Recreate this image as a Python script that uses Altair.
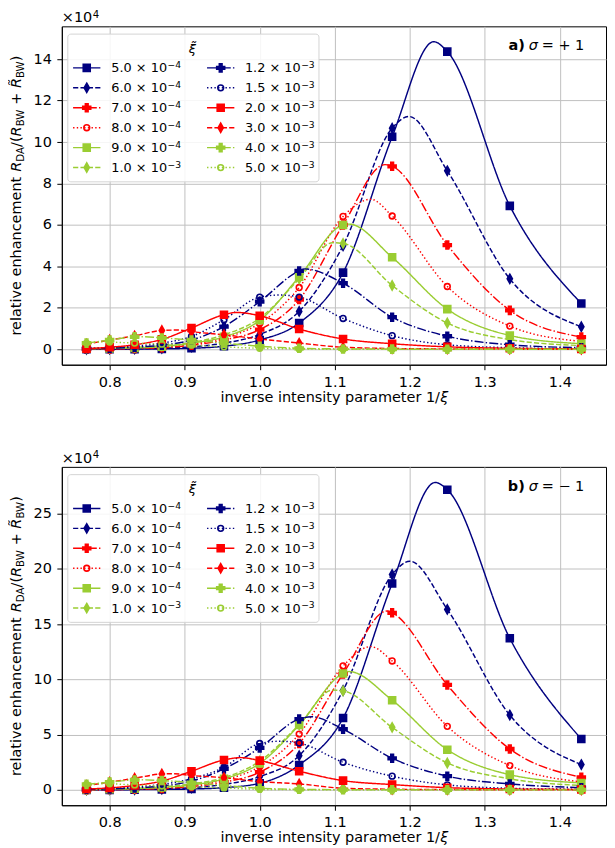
import altair as alt
import pandas as pd

# ---------------- data (values in units of 1e4) ----------------
x_marker = [0.7692, 0.8000, 0.8333, 0.8696, 0.9091, 0.9524, 1.0000,
            1.0526, 1.1111, 1.1765, 1.2500, 1.3333, 1.4286]

series = ["5.0 × 10⁻⁴", "6.0 × 10⁻⁴", "7.0 × 10⁻⁴", "8.0 × 10⁻⁴",
          "9.0 × 10⁻⁴", "1.0 × 10⁻³", "1.2 × 10⁻³", "1.5 × 10⁻³",
          "2.0 × 10⁻³", "3.0 × 10⁻³", "4.0 × 10⁻³", "5.0 × 10⁻³"]

# panel a) sigma = +1
a_5e4 = [0.00, 0.00, 0.01, 0.02, 0.05, 0.15, 0.45, 1.27, 3.70, 10.25, 14.36, 6.92, 2.21]
a_6e4 = [0.00, 0.01, 0.02, 0.05, 0.12, 0.30, 0.72, 1.83, 5.00, 10.67, 8.61, 3.40, 1.09]
a_7e4 = [0.01, 0.02, 0.04, 0.08, 0.20, 0.45, 0.95, 2.40, 6.00, 8.83, 5.03, 1.88, 0.59]
a_8e4 = [0.02, 0.03, 0.05, 0.10, 0.25, 0.55, 1.25, 2.98, 6.41, 6.43, 3.03, 1.12, 0.38]
a_9e4 = [0.03, 0.04, 0.07, 0.13, 0.30, 0.60, 1.40, 3.50, 6.00, 4.44, 1.94, 0.67, 0.27]
a_1e3 = [0.04, 0.06, 0.10, 0.17, 0.33, 0.70, 1.50, 3.40, 5.11, 3.08, 1.27, 0.47, 0.18]
a_12e3 = [0.03, 0.05, 0.10, 0.20, 0.45, 1.10, 2.30, 3.78, 3.19, 1.55, 0.63, 0.22, 0.08]
a_15e3 = [0.05, 0.08, 0.15, 0.30, 0.62, 1.43, 2.52, 2.52, 1.49, 0.66, 0.22, 0.08, 0.03]
a_2e3 = [0.03, 0.10, 0.22, 0.48, 1.03, 1.67, 1.62, 0.98, 0.50, 0.27, 0.12, 0.05, 0.02]
a_3e3 = [0.25, 0.45, 0.65, 0.91, 0.85, 0.70, 0.50, 0.30, 0.10, 0.04, 0.02, 0.01, 0.00]
a_4e3 = [0.30, 0.45, 0.60, 0.55, 0.45, 0.30, 0.15, 0.05, 0.02, 0.01, 0.00, 0.00, 0.00]
a_5e3 = [0.30, 0.35, 0.30, 0.25, 0.20, 0.12, 0.05, 0.02, 0.00, 0.00, 0.00, 0.00, 0.00]
# maxima of the fitted curves, panel a)
peak_a_x = [1.232, 1.199, 1.167, 1.148, 1.119, 1.097, 1.060, 1.027, 0.969, 0.890, 0.845, 0.790]
peak_a_y = [14.84, 11.23, 8.91, 7.24, 6.04, 5.14, 3.88, 2.62, 1.78, 0.93, 0.61, 0.36]

# panel b) sigma = -1
b_5e4 = [0.00, 0.00, 0.02, 0.04, 0.08, 0.20, 0.60, 2.26, 6.50, 18.68, 27.17, 13.72, 4.60]
b_6e4 = [0.01, 0.02, 0.04, 0.08, 0.20, 0.50, 1.20, 3.10, 9.00, 19.49, 16.34, 6.77, 2.29]
b_7e4 = [0.01, 0.03, 0.06, 0.13, 0.30, 0.70, 1.60, 4.20, 10.50, 16.03, 9.50, 3.70, 1.14]
b_8e4 = [0.02, 0.04, 0.08, 0.17, 0.40, 0.90, 2.10, 5.05, 11.22, 11.67, 5.75, 2.20, 0.72]
b_9e4 = [0.03, 0.06, 0.11, 0.22, 0.45, 1.00, 2.40, 5.87, 10.53, 8.12, 3.64, 1.38, 0.63]
b_1e3 = [0.04, 0.08, 0.14, 0.27, 0.55, 1.10, 2.60, 5.90, 8.96, 5.66, 2.44, 1.00, 0.40]
b_12e3 = [0.05, 0.09, 0.17, 0.35, 0.80, 1.90, 3.80, 6.41, 5.50, 2.86, 1.24, 0.54, 0.20]
b_15e3 = [0.08, 0.12, 0.25, 0.50, 1.00, 2.05, 4.20, 4.24, 2.50, 1.24, 0.45, 0.15, 0.06]
b_2e3 = [0.08, 0.18, 0.40, 0.80, 1.69, 2.71, 2.65, 1.69, 0.84, 0.48, 0.20, 0.08, 0.04]
b_3e3 = [0.40, 0.70, 1.05, 1.44, 1.30, 1.10, 0.75, 0.54, 0.15, 0.06, 0.03, 0.01, 0.00]
b_4e3 = [0.50, 0.70, 0.90, 0.85, 0.65, 0.40, 0.15, 0.05, 0.02, 0.01, 0.00, 0.00, 0.00]
b_5e3 = [0.50, 0.55, 0.45, 0.35, 0.28, 0.18, 0.05, 0.02, 0.00, 0.00, 0.00, 0.00, 0.00]
peak_b_x = [1.234, 1.200, 1.170, 1.148, 1.119, 1.097, 1.069, 1.027, 0.975, 0.885, 0.840, 0.790]
peak_b_y = [27.83, 20.70, 16.20, 12.97, 10.71, 9.03, 6.62, 4.40, 2.92, 1.46, 0.91, 0.56]

x_ticks = [0.8, 0.9, 1.0, 1.1, 1.2, 1.3, 1.4]
y_ticks_a = [0, 2, 4, 6, 8, 10, 12, 14]
y_ticks_b = [0, 5, 10, 15, 20, 25]

vals_a = [a_5e4, a_6e4, a_7e4, a_8e4, a_9e4, a_1e3, a_12e3, a_15e3, a_2e3, a_3e3, a_4e3, a_5e3]
vals_b = [b_5e4, b_6e4, b_7e4, b_8e4, b_9e4, b_1e3, b_12e3, b_15e3, b_2e3, b_3e3, b_4e3, b_5e3]

# ---------------- styles ----------------
FONT = "DejaVu Sans"
F = 14.5
NAVY, RED, GREEN = "#000080", "#ff0000", "#9acd32"
colors = [NAVY, NAVY, RED, RED, GREEN, GREEN, NAVY, NAVY, RED, RED, GREEN, GREEN]
SOLID, DASH, DASHDOT, DOT = [1, 0], [5.2, 2.2], [9, 2.2, 1.4, 2.2], [1.4, 2.3]
dashes = [SOLID, DASH, DASHDOT, DOT] * 3
SQUARE = "M-0.7,-0.7H0.7V0.7H-0.7Z"
DIAMOND = "M0,-0.92L0.52,0L0,0.92L-0.52,0Z"
PLUS = "M-0.27,-0.8H0.27V-0.27H0.8V0.27H0.27V0.8H-0.27V0.27H-0.8V-0.27H-0.27Z"
CIRCLE = "M0.58,0A0.58,0.58,0,1,1,-0.58,0A0.58,0.58,0,1,1,0.58,0Z"
shapes = [SQUARE, DIAMOND, PLUS, CIRCLE] * 3
fills = [c if s != CIRCLE else "transparent" for c, s in zip(colors, shapes)]

color_scale = alt.Scale(domain=series, range=colors)
fill_scale = alt.Scale(domain=series, range=fills)
shape_scale = alt.Scale(domain=series, range=shapes)
dash_scale = alt.Scale(domain=series, range=dashes)

W_PX = 546
H_PX = 339.5
X_DOM = [0.7363, 1.4615]

# DejaVu Sans advance widths (em) for composing mixed-style texts
CW = {'r': 0.411, 'e': 0.615, 'l': 0.278, 'a': 0.613, 't': 0.392, 'i': 0.278, 'v': 0.592,
      ' ': 0.318, 'n': 0.634, 'h': 0.634, 'c': 0.550, 'm': 0.974, 'R': 0.695, 'D': 0.770,
      'A': 0.684, 'B': 0.686, 'W': 0.989, '/': 0.337, '(': 0.390, ')': 0.390, '+': 0.838,
      's': 0.521, 'y': 0.592, 'p': 0.635, '×': 0.838, '.': 0.318, 'ξ': 0.50,
      '0': 0.636, '1': 0.636, '2': 0.636, '3': 0.636, '4': 0.636, '5': 0.636,
      '6': 0.636, '7': 0.636, '8': 0.636, '9': 0.636}
SUPMAP = str.maketrans({"⁻": "−", "⁴": "4", "³": "3"})


def tw(s, size):
    return sum(CW.get(ch, 0.0) for ch in s) * size


def txt(s, x, y, size=F, **kw):
    return alt.Chart(pd.DataFrame({"t": [s]})).mark_text(
        fontSize=size, font=FONT, color="black", **kw
    ).encode(x=alt.value(x), y=alt.value(y), text="t:N")


def y_title_layers():
    fs = 0.7 * F
    segs = [("relative enhancement ", "normal", F, False),
            ("R", "italic", F, False), ("DA", "normal", fs, True),
            ("/(", "normal", F, False),
            ("R", "italic", F, False), ("BW", "normal", fs, True),
            (" + ", "normal", F, False),
            ("R\u0303", "italic", F, False), ("BW", "normal", fs, True),
            (")", "normal", F, False)]
    total = sum(tw(s, sz) for s, _, sz, _ in segs)
    y0 = H_PX / 2 + total / 2
    out = []
    cum = 0.0
    for s, style, sz, sub in segs:
        lead = len(s) - len(s.lstrip())
        start = cum + tw(s[:lead], sz)
        out.append(txt(s.strip(), -41 + (3.3 if sub else 0), y0 - start, size=sz,
                       angle=270, align="left", baseline="alphabetic", fontStyle=style))
        cum += tw(s, sz)
    return out


def x_title_layers():
    a, b = "inverse intensity parameter 1/", "ξ"
    total = tw(a, F) + tw(b, F)
    x0 = W_PX / 2 - total / 2
    yb = H_PX + 26
    return [txt(a, x0, yb, align="left", baseline="top"),
            txt(b, x0 + tw(a, F), yb, align="left", baseline="top", fontStyle="italic")]


def legend_layers():
    LF = 12.9
    rows = []
    for i, s in enumerate(series):
        col, row = i // 6, i % 6
        x1 = 11.3 + 134.4 * col
        mant, expo = s.split("10")
        mant = mant + "10"
        rows.append({"series": s, "mant": mant, "expo": expo.translate(SUPMAP),
                     "lx1": x1, "lx2": x1 + 27.4, "lxm": x1 + 13.7,
                     "lxt": 49.7 + 134.0 * col, "lxs": 49.7 + 134.0 * col + tw(mant, LF) + 0.5,
                     "ly": 41.7 + 20.0 * row, "lyb": 41.7 + 20.0 * row + 4.6,
                     "lys": 41.7 + 20.0 * row + 0.4})
    ld = pd.DataFrame(rows)
    bg = alt.Chart(pd.DataFrame({"a": [0]})).mark_rect(
        fill="white", fillOpacity=0.85, stroke="#d4d4d4", strokeWidth=1, cornerRadius=3
    ).encode(x=alt.value(6), x2=alt.value(258), y=alt.value(7.8), y2=alt.value(156))
    rules = alt.Chart(ld).mark_rule(strokeWidth=1.45).encode(
        x=alt.X("lx1:Q", scale=None, axis=None), x2="lx2:Q",
        y=alt.Y("ly:Q", scale=None, axis=None),
        color=alt.Color("series:N", scale=color_scale, legend=None),
        strokeDash=alt.StrokeDash("series:N", scale=dash_scale, legend=None))
    pts = alt.Chart(ld).mark_point(size=100, strokeWidth=1.6, opacity=1).encode(
        x=alt.X("lxm:Q", scale=None, axis=None),
        y=alt.Y("ly:Q", scale=None, axis=None),
        shape=alt.Shape("series:N", scale=shape_scale, legend=None),
        stroke=alt.Stroke("series:N", scale=color_scale, legend=None),
        fill=alt.Fill("series:N", scale=fill_scale, legend=None))
    labels = alt.Chart(ld).mark_text(align="left", baseline="alphabetic", font=FONT,
                                     fontSize=LF, color="black").encode(
        x=alt.X("lxt:Q", scale=None, axis=None),
        y=alt.Y("lyb:Q", scale=None, axis=None),
        text="mant:N")
    sups = alt.Chart(ld).mark_text(align="left", baseline="alphabetic", font=FONT,
                                   fontSize=9.2, color="black").encode(
        x=alt.X("lxs:Q", scale=None, axis=None),
        y=alt.Y("lys:Q", scale=None, axis=None),
        text="expo:N")
    title = txt("ξ\u0303", 131, 22.7, size=13, fontStyle="italic")
    return [bg, rules, pts, labels, sups, title]


def make_panel(vals, peak_x, peak_y, ydom, yticks, tag, sign):
    rows = []
    for i, (s, v) in enumerate(zip(series, vals)):
        for xv, yv in zip(x_marker, v):
            rows.append({"series": s, "k": i, "x": xv, "y": yv})
    mk = pd.DataFrame(rows)
    pk = pd.DataFrame({"series": series, "k": list(range(12)), "x": peak_x, "y": peak_y})
    crv = pd.concat([mk, pk]).sort_values(["k", "x"]).reset_index(drop=True)

    xenc = alt.X("x:Q", scale=alt.Scale(domain=X_DOM, nice=False, zero=False),
                 axis=alt.Axis(values=x_ticks, format=".1f", title=None))
    yenc = alt.Y("y:Q", scale=alt.Scale(domain=ydom, nice=False, zero=False),
                 axis=alt.Axis(values=yticks, format="d", title=None))

    lines = alt.Chart(crv).mark_line(interpolate="monotone", strokeWidth=1.45, clip=True).encode(
        x=xenc, y=yenc,
        color=alt.Color("series:N", scale=color_scale, legend=None),
        strokeDash=alt.StrokeDash("series:N", scale=dash_scale, legend=None),
        detail="series:N")
    pts = alt.Chart(mk).mark_point(size=100, strokeWidth=1.6, opacity=1).encode(
        x=xenc, y=yenc,
        shape=alt.Shape("series:N", scale=shape_scale, legend=None),
        stroke=alt.Stroke("series:N", scale=color_scale, legend=None),
        fill=alt.Fill("series:N", scale=fill_scale, legend=None))

    w10 = tw("×10", F)
    annot = [
        txt("×10", 0, -4, align="left", baseline="alphabetic"),
        txt("4", w10 + 0.5, -8.5, size=10.2, align="left", baseline="alphabetic"),
        txt(tag, 464.5, 24, align="right", baseline="alphabetic", fontWeight="bold"),
        txt("σ", 468.5, 24, align="left", baseline="alphabetic", fontStyle="italic"),
        txt("= " + sign + " 1", 481.5, 24, align="left", baseline="alphabetic"),
    ]
    layers = [lines, pts] + legend_layers() + annot + y_title_layers() + x_title_layers()
    return alt.layer(*layers).properties(width=W_PX, height=H_PX)


top = make_panel(vals_a, peak_a_x, peak_a_y, [-0.742, 15.58], y_ticks_a, "a)", "+")
bottom = make_panel(vals_b, peak_b_x, peak_b_y, [-1.39, 29.24], y_ticks_b, "b)", "−")

chart = alt.vconcat(top, bottom, spacing=45).properties(
    padding={"left": 0, "top": 0, "right": 0, "bottom": 0}
).configure(font=FONT).configure_axis(
    labelFont=FONT, labelFontSize=F, labelColor="black",
    titleFont=FONT, titleFontSize=F, titleFontWeight="normal", titleColor="black",
    tickColor="black", tickSize=5, tickWidth=1, labelPadding=5.5, titlePadding=3,
    domainColor="black", domainWidth=1,
    gridColor="#c0c0c0", gridWidth=1, gridOpacity=1,
).configure_view(stroke="black", strokeWidth=1)

chart.save("out.html", embed_options={"renderer": "svg", "actions": False})
